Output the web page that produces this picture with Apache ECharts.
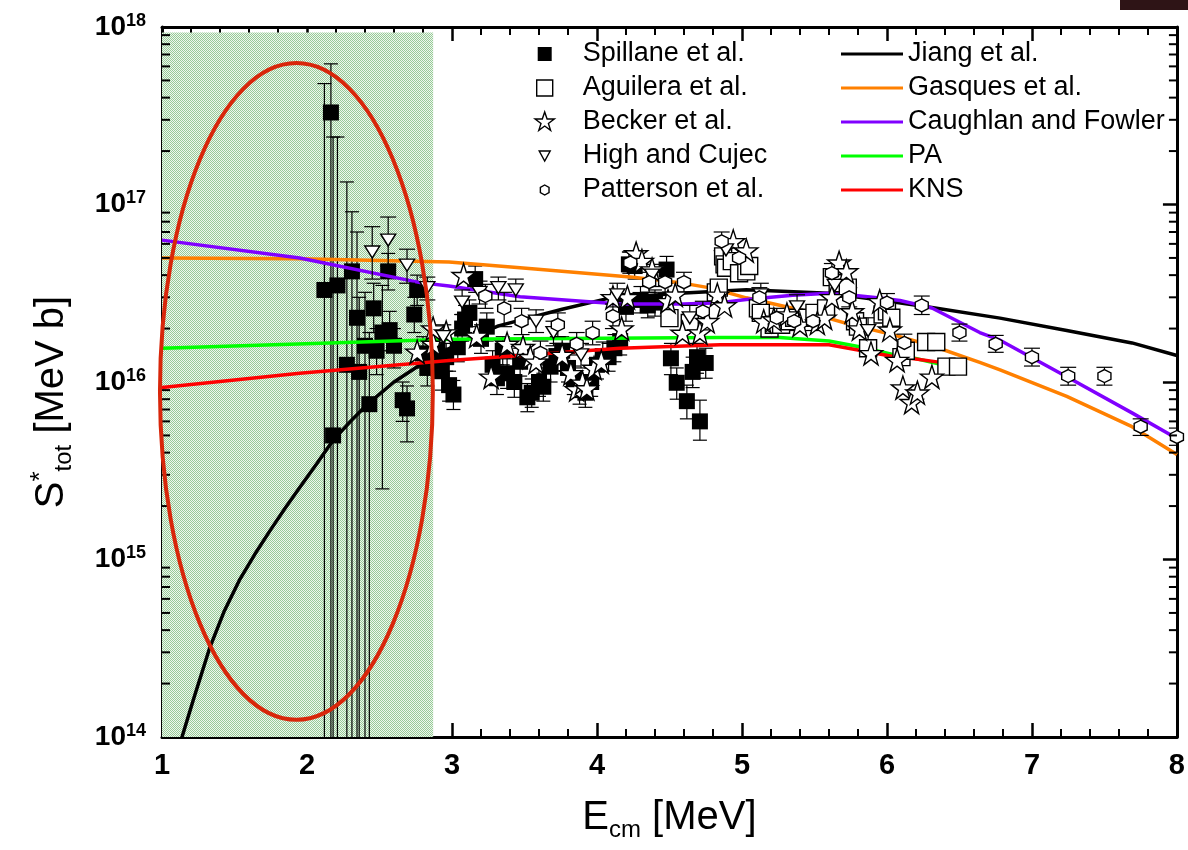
<!DOCTYPE html>
<html><head><meta charset="utf-8">
<script src="https://cdn.jsdelivr.net/npm/echarts@6/dist/echarts.min.js"></script>
<style>html,body{margin:0;padding:0;background:#fff}#c{width:1188px;height:850px}</style>
</head><body><div id="c"></div>
<script>
// All S values below are in units of 1e16 MeV b
const SCALE = 1e16;
const X_MIN = 1, X_MAX = 8;
const Y_MIN = 1e14, Y_MAX = 1e18;
const X_TICK_LABELS = ['1','2','3','4','5','6','7','8'];
const Y_DECADES = [14,15,16,17];
const Y_MINOR_MULT = [2,3,4,5,6,7,8,9];
const HATCH_RANGE = [1.0, 2.87];          // E range of shaded region
const HATCH_TOP = 93;                      // top of shaded region (1e16 units)
const ELLIPSE_E = [0.986, 2.868];          // ellipse extent in E
const ELLIPSE_S = [0.0125, 62.7];          // ellipse extent in S (1e16 units)

// [E, S, lowBound, highBound]  (lowBound 0 = extends below axis)
const spillane = [
 [2.12,3.3,0,48],[2.165,33,0,62],[2.18,0.50,0,24],[2.21,3.5,0,24],[2.275,1.25,0,13.4],
 [2.31,4.2,0,9.1],[2.345,2.3,0,7.0],[2.36,1.14,0,3.0],[2.40,1.6,0,3.2],[2.43,0.75,0,1.9],
 [2.46,2.6,1.9,3.6],[2.48,1.5,1.1,2.0],[2.52,1.9,0.25,3.5],[2.56,4.2,3.3,5.3],[2.57,1.96,1.5,2.5],
 [2.60,1.6,1.2,2.0],[2.66,0.79,0.6,1.0],[2.69,0.71,0.46,0.95],[2.74,2.4,1.9,3.0],[2.76,3.3,2.7,4.0],
 [2.80,1.45,1.2,1.8],[2.83,1.2,0.95,1.5],[2.87,1.35,1.1,1.65],[2.90,1.6,1.3,1.95],[2.93,1.15,0.9,1.4],
 [2.96,1.38,1.15,1.65],[2.98,0.96,0.78,1.15],[3.01,0.85,0.7,1.02],[3.04,1.57,1.3,1.9],[3.07,2.0,1.7,2.4],
 [3.09,2.25,1.9,2.7],[3.12,2.45,2.05,2.9],[3.16,3.8,3.2,4.5],[3.20,1.75,1.45,2.1],[3.24,2.05,1.7,2.45],
 [3.28,1.25,1.05,1.5],[3.31,1.05,0.85,1.25],[3.35,1.5,1.25,1.8],[3.38,1.12,0.92,1.35],[3.43,1.0,0.82,1.2],
 [3.47,1.3,1.08,1.55],[3.52,0.82,0.68,0.98],[3.55,0.87,0.72,1.04],[3.60,1.0,0.83,1.2],[3.63,0.94,0.78,1.12],
 [3.68,1.22,1.0,1.45],[3.72,1.4,1.15,1.65],[3.76,1.5,1.25,1.8],[3.80,1.2,1.0,1.45],[3.84,1.03,0.85,1.23],
 [3.88,0.9,0.75,1.08],[3.92,0.87,0.72,1.05],[3.96,1.0,0.83,1.2],[4.00,1.25,1.04,1.5],[4.04,1.4,1.16,1.68],
 [4.08,1.38,1.15,1.65],[4.12,1.55,1.3,1.85],[4.16,1.7,1.42,2.05],[4.20,2.65,2.2,3.15],[4.22,4.6,3.9,5.4],
 [4.26,4.5,3.8,5.3],[4.30,2.9,2.45,3.45],[4.35,2.7,2.3,3.2],[4.40,2.8,2.35,3.3],[4.48,4.3,3.6,5.1],
 [4.51,1.36,1.1,1.65],[4.55,0.99,0.8,1.2],[4.62,0.78,0.62,0.96],[4.66,1.14,0.93,1.38],[4.69,1.38,1.12,1.65],
 [4.71,0.6,0.47,0.79],[4.75,1.28,1.05,1.55]
];
// [E, S]
const aguilera = [
 [4.50,2.29],[4.64,2.15],[4.82,3.2],[4.84,3.4],[4.87,5.1],[4.88,4.6],[4.89,4.4],[4.93,4.8],[4.98,4.1],
 [5.03,4.2],[5.05,4.5],[5.11,2.6],[5.13,2.45],[5.19,2.0],[5.22,2.1],[5.27,2.1],[5.33,2.2],[5.36,2.3],
 [5.45,2.3],[5.50,2.45],[5.58,2.6],[5.62,3.9],[5.66,3.6],[5.73,3.4],[5.78,2.2],[5.80,2.05],[5.87,1.55],
 [5.97,2.4],[6.00,2.5],[6.03,2.3],[6.10,1.38],[6.13,1.5],[6.27,1.68],[6.34,1.68],[6.41,1.22],[6.49,1.22]
];
const becker = [
 [2.76,1.48],[2.87,1.64],[2.87,2.0],[2.96,1.9],[3.08,4.0],[3.17,1.82],[3.27,1.07],[3.38,1.64],[3.49,1.57],
 [3.54,1.38],[3.58,1.3],[3.76,1.42],[3.82,1.12],[3.86,0.91],[3.90,0.99],[3.93,0.92],[3.98,1.2],[4.03,1.30],
 [4.11,3.0],[4.17,2.0],[4.21,3.0],[4.27,5.3],[4.31,4.8],[4.38,4.3],[4.49,2.85],[4.54,3.1],[4.59,1.89],
 [4.71,1.9],[4.76,2.2],[4.83,3.1],[4.88,2.7],[4.94,6.2],[5.03,5.5],[5.15,2.2],[5.22,2.25],[5.31,2.4],
 [5.40,2.1],[5.52,2.15],[5.57,2.3],[5.62,3.0],[5.67,4.7],[5.72,4.2],[5.76,2.5],[5.81,2.0],[5.89,1.45],
 [5.95,2.85],[6.02,1.97],[6.07,1.33],[6.11,0.93],[6.17,0.77],[6.21,0.87],[6.31,1.07]
];
// [E, S, lowBound, highBound]
const highCujec = [
 [2.45,5.4,3.8,7.5],[2.56,6.3,4.5,8.5],[2.69,4.55,3.6,5.6],[2.83,3.4,2.9,3.9],[2.94,1.8,1.55,2.1],
 [3.07,2.82,2.4,3.3],[3.19,3.2,2.75,3.7],[3.32,3.4,2.9,3.9],[3.44,3.3,2.85,3.8],[3.58,2.2,1.9,2.55],
 [3.70,1.9,1.6,2.2],[3.89,1.42,1.2,1.65],[4.14,3.1,2.65,3.6],[4.38,4.0,3.45,4.6],[4.64,2.3,1.95,2.7],
 [4.89,5.55,4.8,6.4],[5.13,3.1,2.65,3.6],[5.38,2.65,2.25,3.1],[5.64,3.5,3.0,4.05],[5.87,1.95,1.65,2.3]
];
const patterson = [
 [3.23,3.05,2.6,3.55],[3.36,2.6,2.05,3.2],[3.48,2.2,1.85,2.6],[3.61,1.46,1.25,1.7],[3.73,2.1,1.8,2.45],
 [3.86,1.64,1.42,1.9],[3.97,1.89,1.62,2.2],[4.11,2.35,2.0,2.75],[4.23,4.7,4.1,5.4],[4.36,3.65,3.2,4.15],
 [4.47,3.65,3.2,4.15],[4.60,3.65,3.2,4.15],[4.73,2.5,2.2,2.85],[4.86,6.2,5.5,7.0],[4.98,5.0,4.4,5.7],
 [5.12,3.0,2.65,3.4],[5.24,2.3,2.0,2.6],[5.36,2.2,1.95,2.5],[5.49,2.2,1.95,2.5],[5.62,4.1,3.6,4.65],
 [5.74,3.0,2.65,3.4],[6.00,2.8,2.5,3.15],[6.12,1.66,1.48,1.86],[6.24,2.7,2.4,3.05],[6.50,1.9,1.7,2.12],
 [6.75,1.64,1.47,1.83],[7.00,1.38,1.23,1.55],[7.25,1.08,0.96,1.21],[7.50,1.08,0.96,1.21],
 [7.75,0.56,0.50,0.62],[8.00,0.49,0.44,0.55]
];
// curves [E, S]
const jiang = [[1.10,0.0076],[1.138,0.010],[1.22,0.0166],[1.331,0.0321],[1.43,0.0513],[1.538,0.0776],
 [1.64,0.107],[1.744,0.145],[1.85,0.195],[1.951,0.255],[2.066,0.345],[2.18,0.47],[2.30,0.60],[2.41,0.74],
 [2.60,1.0],[2.80,1.28],[3.05,1.66],[3.32,2.07],[3.76,2.57],[4.07,2.95],[4.57,3.16],[5.03,3.31],[5.60,3.16],
 [5.95,2.90],[6.31,2.63],[6.78,2.29],[7.24,1.95],[7.69,1.66],[8.0,1.41]];
const gasques = [[1.0,5.0],[1.95,4.95],[2.98,4.75],[3.47,4.4],[4.25,3.89],[4.57,3.63],[4.78,3.39],[5.03,2.98],
 [5.38,2.57],[5.72,2.14],[6.07,1.82],[6.31,1.6],[6.64,1.29],[6.78,1.17],[7.24,0.83],[7.69,0.56],[8.0,0.39]];
const caughlan = [[1.0,6.3],[1.95,5.0],[2.78,3.63],[2.98,3.47],[3.47,3.02],[4.16,2.75],[4.6,2.75],[4.85,2.8],
 [5.03,2.92],[5.35,3.08],[5.60,3.16],[5.80,3.06],[5.95,2.97],[6.09,2.88],[6.31,2.61],[6.64,1.9],[6.78,1.72],
 [7.24,1.07],[7.69,0.67],[8.0,0.48]];
const pa = [[1.0,1.55],[2.98,1.74],[4.85,1.78],[5.26,1.78],[5.60,1.70],[5.81,1.58],[6.07,1.41],[6.16,1.38],[6.37,1.26]];
const kns = [[1.0,0.93],[1.95,1.12],[2.98,1.32],[3.47,1.41],[4.16,1.55],[4.85,1.62],[5.26,1.62],[5.60,1.62],
 [5.81,1.51],[6.07,1.38],[6.16,1.36],[6.37,1.29]];

const FONT = 'Liberation Sans, Arial, Helvetica, sans-serif';
const STAR = 'path://M50,0 L61.8,35.1 L98.1,35.1 L68.7,56.8 L79.4,91.6 L50,70 L20.6,91.6 L31.3,56.8 L1.9,35.1 L38.2,35.1 Z';
const HEX = 'path://M50,0 L93.3,25 L93.3,75 L50,100 L6.7,75 L6.7,25 Z';
const LINE_ICON = 'path://M0,0 L62,0 L62,3 L0,3 Z';

const toPts = arr => arr.map(d => [d[0], d[1] * SCALE]);
const toErr = arr => arr.map(d => [d[0], d[1] * SCALE, d[2] > 0 ? d[2] * SCALE : Y_MIN, d[3] * SCALE, d[2] > 0 ? 1 : 0]);

function errorBarItem(capHalf) {
  return function (params, api) {
    const x = api.value(0);
    const pHi = api.coord([x, api.value(3)]);
    const pLo = api.coord([x, api.value(2)]);
    const st = { stroke: '#000', lineWidth: 1.2 };
    const ch = [
      { type: 'line', shape: { x1: pHi[0], y1: pHi[1], x2: pLo[0], y2: pLo[1] }, style: st },
      { type: 'line', shape: { x1: pHi[0] - capHalf, y1: pHi[1], x2: pHi[0] + capHalf, y2: pHi[1] }, style: st }
    ];
    if (api.value(4) > 0) ch.push({ type: 'line', shape: { x1: pLo[0] - capHalf, y1: pLo[1], x2: pLo[0] + capHalf, y2: pLo[1] }, style: st });
    return { type: 'group', children: ch };
  };
}

const minorTickData = [];
Y_DECADES.forEach(k => Y_MINOR_MULT.forEach(m => minorTickData.push([X_MIN, m * Math.pow(10, k)])));

function minorTickItem(params, api) {
  const y = api.coord([X_MIN, api.value(1)])[1];
  const l = params.coordSys.x, r = l + params.coordSys.width;
  const st = { stroke: '#000', lineWidth: 2 };
  return { type: 'group', children: [
    { type: 'line', shape: { x1: l, y1: y, x2: l + 8, y2: y }, style: st },
    { type: 'line', shape: { x1: r, y1: y, x2: r - 8, y2: y }, style: st }
  ] };
}

// checkered green pattern
const pc = document.createElement('canvas'); pc.width = 2; pc.height = 2;
const g = pc.getContext('2d');
g.fillStyle = '#eef7ee'; g.fillRect(0, 0, 2, 2);
g.fillStyle = '#97ca97'; g.fillRect(0, 0, 1, 1); g.fillRect(1, 1, 1, 1);

const axisX = (pos, showLabel) => ({
  type: 'value', min: X_MIN, max: X_MAX, interval: 1, position: pos,
  axisLine: { show: true, onZero: false, lineStyle: { color: '#000', width: 3 } },
  axisTick: { show: true, inside: true, length: 14, lineStyle: { color: '#000', width: 2.5 } },
  minorTick: { show: true, splitNumber: 5, length: 8, lineStyle: { color: '#000', width: 2 } },
  splitLine: { show: false },
  axisLabel: { show: showLabel, margin: 14, color: '#000', fontSize: 29, fontWeight: 'bold', fontFamily: FONT,
    formatter: v => X_TICK_LABELS[Math.round(v) - X_MIN] }
});
const axisY = (pos, showLabel) => ({
  type: 'log', logBase: 10, min: Y_MIN, max: Y_MAX, splitNumber: 4, position: pos,
  axisLine: { show: true, onZero: false, lineStyle: { color: '#000', width: 3 } },
  axisTick: { show: true, inside: true, length: 14, lineStyle: { color: '#000', width: 2.5 } },
  splitLine: { show: false },
  axisLabel: { show: showLabel, margin: 16, color: '#000', fontFamily: FONT,
    formatter: v => '{b|10}{s|' + Math.round(Math.log10(v)) + '}',
    rich: { b: { fontSize: 28, fontWeight: 'bold', fontFamily: FONT, color: '#000', lineHeight: 30 },
            s: { fontSize: 18, fontWeight: 'bold', fontFamily: FONT, color: '#000', verticalAlign: 'top', lineHeight: 18 } } }
});

const xB = axisX('bottom', true);
xB.name = '{m|E}{sub|cm}{m| [MeV]}';
xB.nameLocation = 'middle'; xB.nameGap = 57;
xB.nameTextStyle = { rich: {
  m: { fontSize: 40, fontFamily: FONT, color: '#000', lineHeight: 48 },
  sub: { fontSize: 24, fontFamily: FONT, color: '#000', lineHeight: 48, verticalAlign: 'bottom' } } };
const yL = axisY('left', true);
yL.name = '{m|S}{sup|*}{sub|tot}{m| [MeV b]}';
yL.nameLocation = 'middle'; yL.nameRotate = 90; yL.nameGap = 86;
yL.nameTextStyle = { padding: [0, 40, 0, 0], rich: {
  m: { fontSize: 40, fontFamily: FONT, color: '#000', lineHeight: 48 },
  sup: { fontSize: 26, fontFamily: FONT, color: '#000', lineHeight: 26, verticalAlign: 'top' },
  sub: { fontSize: 24, fontFamily: FONT, color: '#000', lineHeight: 48, verticalAlign: 'bottom' } } };

const openStyle = { color: '#fff', borderColor: '#000', borderWidth: 1.4 };
const CURVE_COLORS = { jiang: '#000000', gasques: '#ff8000', caughlan: '#8000ff', pa: '#00ff00', kns: '#ff0000' };
const lineS = (name, data, color) => ({ name, type: 'line', data: toPts(data), smooth: false,
  symbol: 'none', showSymbol: false, clip: true, z: 4, lineStyle: { color, width: 3.5 }, itemStyle: { color } });

const legendText = { fontSize: 27, fontFamily: FONT, color: '#000', lineHeight: 28 };

const option = {
  animation: false,
  backgroundColor: '#fff',
  grid: { left: 162, right: 10, top: 27, bottom: 113 },
  xAxis: [xB, axisX('top', false)],
  yAxis: [yL, axisY('right', false)],
  legend: [
    { orient: 'vertical', left: 528, top: 35, itemWidth: 66, itemHeight: 22, itemGap: 6, selectedMode: false,
      textStyle: legendText, data: [
        { name: 'Spillane et al.', icon: 'path://M-4,-4 M18,18 M0,0 L14,0 L14,14 L0,14 Z', itemStyle: { color: '#000', borderWidth: 0 } },
        { name: 'Aguilera et al.', icon: 'path://M-3,-3 M19,19 M0,0 L16,0 L16,16 L0,16 Z', itemStyle: openStyle },
        { name: 'Becker et al.', icon: 'path://M-1,-1 M21,21 M10,0 L12.4,7 L19.6,7 L13.7,11.4 L15.9,18.3 L10,14 L4.1,18.3 L6.3,11.4 L0.4,7 L7.6,7 Z', itemStyle: openStyle },
        { name: 'High and Cujec', icon: 'path://M-5.5,-6 M16.5,16 M0,0 L11,0 L5.5,10 Z', itemStyle: openStyle },
        { name: 'Patterson et al.', icon: 'path://M-6,-6 M16,16 M5,0 L9.33,2.5 L9.33,7.5 L5,10 L0.67,7.5 L0.67,2.5 Z', itemStyle: openStyle }
      ] },
    { orient: 'vertical', left: 836, top: 35, itemWidth: 62, itemHeight: 22, itemGap: 6, selectedMode: false,
      textStyle: legendText, data: [
        { name: 'Jiang et al.', icon: LINE_ICON, itemStyle: { color: CURVE_COLORS.jiang } },
        { name: 'Gasques et al.', icon: LINE_ICON, itemStyle: { color: CURVE_COLORS.gasques } },
        { name: 'Caughlan and Fowler', icon: LINE_ICON, itemStyle: { color: CURVE_COLORS.caughlan } },
        { name: 'PA', icon: LINE_ICON, itemStyle: { color: CURVE_COLORS.pa } },
        { name: 'KNS', icon: LINE_ICON, itemStyle: { color: CURVE_COLORS.kns } }
      ] }
  ],
  series: [
    { name: 'hatch', type: 'line', data: [], z: 1, silent: true,
      markArea: { silent: true, itemStyle: { color: { image: pc, repeat: 'repeat' } },
        data: [[{ xAxis: HATCH_RANGE[0], yAxis: Y_MIN }, { xAxis: HATCH_RANGE[1], yAxis: HATCH_TOP * SCALE }]] } },
    { name: 'minorTicks', type: 'custom', data: minorTickData, renderItem: minorTickItem, z: 20, silent: true,
      encode: { x: 0, y: 1 } },
    { name: 'spErr', type: 'custom', data: toErr(spillane), renderItem: errorBarItem(7), z: 2, clip: true, silent: true,
      encode: { x: 0, y: 1 } },
    { name: 'Spillane et al.', type: 'scatter', data: toPts(spillane), symbol: 'rect', symbolSize: 16, z: 3,
      itemStyle: { color: '#000', opacity: 1 } },
    lineS('Jiang et al.', jiang, CURVE_COLORS.jiang),
    lineS('Gasques et al.', gasques, CURVE_COLORS.gasques),
    lineS('Caughlan and Fowler', caughlan, CURVE_COLORS.caughlan),
    lineS('PA', pa, CURVE_COLORS.pa),
    lineS('KNS', kns, CURVE_COLORS.kns),
    { name: 'Aguilera et al.', type: 'scatter', data: toPts(aguilera), symbol: 'rect', symbolSize: 17, z: 6,
      itemStyle: Object.assign({ opacity: 1 }, openStyle) },
    { name: 'Becker et al.', type: 'scatter', data: toPts(becker), symbol: STAR, symbolSize: 23, z: 6,
      itemStyle: Object.assign({ opacity: 1 }, openStyle) },
    { name: 'hcErr', type: 'custom', data: toErr(highCujec), renderItem: errorBarItem(8), z: 5, clip: true, silent: true,
      encode: { x: 0, y: 1 } },
    { name: 'High and Cujec', type: 'scatter', data: toPts(highCujec), symbol: 'triangle', symbolRotate: 180,
      symbolSize: [15, 12], z: 6, itemStyle: Object.assign({ opacity: 1 }, openStyle) },
    { name: 'paErr', type: 'custom', data: toErr(patterson), renderItem: errorBarItem(8), z: 5, clip: true, silent: true,
      encode: { x: 0, y: 1 } },
    { name: 'Patterson et al.', type: 'scatter', data: toPts(patterson), symbol: HEX, symbolSize: 13, z: 6,
      itemStyle: Object.assign({ opacity: 1 }, openStyle) }
  ]
};

const chart = echarts.init(document.getElementById('c'), null, { renderer: 'canvas' });
chart.setOption(option);

const p1 = chart.convertToPixel({ xAxisIndex: 0, yAxisIndex: 0 }, [ELLIPSE_E[0], ELLIPSE_S[0] * SCALE]);
const p2 = chart.convertToPixel({ xAxisIndex: 0, yAxisIndex: 0 }, [ELLIPSE_E[1], ELLIPSE_S[1] * SCALE]);
chart.setOption({ graphic: [
  { type: 'ellipse', z: 100, silent: true,
    shape: { cx: (p1[0] + p2[0]) / 2, cy: (p1[1] + p2[1]) / 2, rx: Math.abs(p2[0] - p1[0]) / 2, ry: Math.abs(p2[1] - p1[1]) / 2 },
    style: { fill: 'none', stroke: '#d8260a', lineWidth: 4 } },
  { type: 'rect', z: 100, silent: true, left: 1120, top: 0, shape: { width: 68, height: 10 }, style: { fill: '#2e1416' } }
] });
</script></body></html>
